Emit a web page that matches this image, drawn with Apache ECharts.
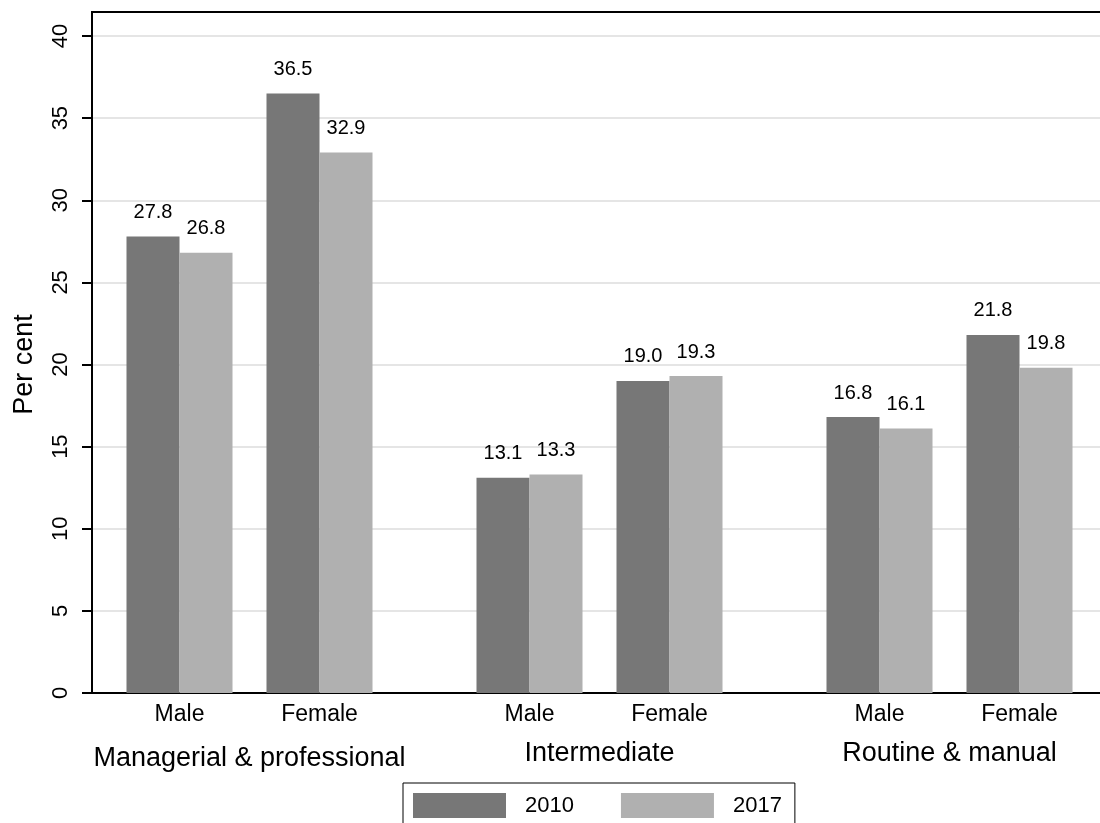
<!DOCTYPE html>
<html>
<head>
<meta charset="utf-8">
<script src="https://cdn.jsdelivr.net/npm/echarts@6/dist/echarts.min.js"></script>
<style>
   html, body { margin: 0; padding: 0; background: #fff; }
   .chart { width: 1100px; height: 823px; }
</style>
</head>
<body>
<div class="chart"></div>
<script>
// 数据
var categories = ['Male', 'Female', 'Male', 'Female', 'Male', 'Female'];
var groups = ['Managerial & professional', 'Intermediate', 'Routine & manual'];
var years = ['2010', '2017'];
var values2010 = [27.8, 36.5, 13.1, 19.0, 16.8, 21.8];
var values2017 = [26.8, 32.9, 13.3, 19.3, 16.1, 19.8];
var yTicks = [0, 5, 10, 15, 20, 25, 30, 35, 40];

// 分组间隔: 用空的类目位置隔开
var slotCount = 29;
var barSlots = [2, 6, 12, 16, 22, 26];
var groupSlots = [4, 14, 24];

function spread(list, slots, blank) {
   var out = [];
   for (var i = 0; i < slotCount; i++) out.push(blank);
   slots.forEach(function (s, i) { out[s] = list[i]; });
   return out;
}

var font = '"Liberation Sans", Arial, Helvetica, sans-serif';
var chart = echarts.init(document.querySelector('.chart'));

var labelStyle = {
   show: true,
   position: 'top',
   distance: 14,
   color: '#000',
   fontFamily: font,
   fontSize: 20,
   formatter: function (p) { return Number(p.value).toFixed(1); }
};

var option = {
   animation: false,
   backgroundColor: '#fff',
   grid: { left: 92, top: 36, bottom: 130, width: 1015, outerBoundsMode: 'none' },
   legend: {
      data: years,
      left: 403,
      top: 783,
      icon: 'rect',
      itemWidth: 93,
      itemHeight: 25,
      itemGap: 47,
      selectedMode: false,
      borderColor: '#000',
      borderWidth: 1,
      borderRadius: 0,
      padding: [10, 13, 10, 10],
      textStyle: { color: '#000', fontFamily: font, fontSize: 22, padding: [0, 0, 0, 14] }
   },
   xAxis: [{
      type: 'category',
      position: 'bottom',
      data: spread(categories, barSlots, ''),
      axisLine: { lineStyle: { color: '#000', width: 2 } },
      axisTick: { show: false },
      axisLabel: { interval: 0, margin: 10, color: '#000', fontFamily: font, fontSize: 23 }
   }, {
      // 大类标签
      type: 'category',
      position: 'bottom',
      data: spread(groups, groupSlots, '').map(function (g, i) {
         return i === groupSlots[0] ? { value: g, textStyle: { padding: [5, 0, 0, 0] } } : g;
      }),
      axisLine: { show: false },
      axisTick: { show: false },
      axisLabel: { interval: 0, margin: 47, color: '#000', fontFamily: font, fontSize: 27 }
   }],
   yAxis: {
      type: 'value',
      min: yTicks[0],
      max: yTicks[yTicks.length - 1],
      interval: yTicks[1] - yTicks[0],
      name: 'Per cent',
      nameLocation: 'middle',
      nameGap: 54,
      nameTextStyle: { color: '#000', fontFamily: font, fontSize: 27 },
      axisLine: { show: true, lineStyle: { color: '#000', width: 2 } },
      axisTick: { show: true, length: 10, lineStyle: { color: '#000', width: 2 } },
      axisLabel: { rotate: 90, margin: 20, color: '#000', fontFamily: font, fontSize: 22 },
      splitLine: { lineStyle: { color: '#e5e5e5', width: 2 } }
   },
   // 绘图区上边框
   graphic: [{
      type: 'polyline',
      shape: { points: [[92, 36], [92, 12], [1100, 12]] },
      style: { stroke: '#000', lineWidth: 2, fill: null },
      z: 10
   }],
   series: [{
      name: years[0],
      type: 'bar',
      xAxisIndex: 0,
      barWidth: 53,
      barGap: '0%',
      itemStyle: { color: '#777777' },
      label: labelStyle,
      data: spread(values2010, barSlots, '-')
   }, {
      name: years[1],
      type: 'bar',
      xAxisIndex: 0,
      barWidth: 53,
      barGap: '0%',
      itemStyle: { color: '#b0b0b0' },
      label: labelStyle,
      data: spread(values2017, barSlots, '-')
   }]
};

chart.setOption(option);
</script>
</body>
</html>
